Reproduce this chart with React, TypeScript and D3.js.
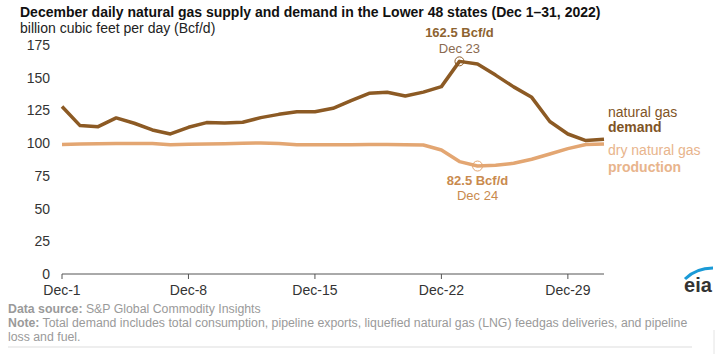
import React from "react";
import * as d3 from "d3";

const days = d3.range(1, 32);
const demand = [128, 113.4, 112.6, 119.3, 115.2, 110.1, 107, 112.1, 115.7, 115.4, 116, 119.5, 122, 124, 124, 126.6, 132.5, 138.1, 138.9, 136, 139, 143.2, 162.5, 160.5, 152, 143, 135, 116.5, 107, 102, 103];
const production = [99, 99.3, 99.6, 99.8, 99.8, 99.8, 98.8, 99.2, 99.4, 99.6, 99.9, 100.2, 99.7, 98.7, 98.7, 98.8, 98.8, 98.9, 98.9, 98.8, 98.6, 94.8, 85.9, 82.5, 83.1, 84.6, 87.7, 91.7, 95.8, 98.9, 99.4];
const yTicks = [0, 25, 50, 75, 100, 125, 150, 175];
const xTickDays = [1, 8, 15, 22, 29];

const W = 719, H = 354;
const FONT = "'Liberation Sans', Arial, sans-serif";
const DEMAND_C = "#8c5a24";
const PROD_C = "#e3a672";

export default function App() {
  const x = d3.scaleLinear().domain([1, 31]).range([62, 604]);
  const y = d3.scaleLinear().domain([0, 175]).range([274, 45]);
  const line = d3.line<number>().x((_, i) => x(days[i])).y((d) => y(d));
  const peakIdx = demand.indexOf(d3.max(demand)!);
  const lowIdx = production.indexOf(d3.min(production)!);

  return (
    <svg width={W} height={H} style={{ position: "absolute", left: 0, top: 0, fontFamily: FONT }}>
      <rect width={W} height={H} fill="#fff" />
      <text x={20} y={17} fontSize={14} fontWeight="bold" fill="#111">
        December daily natural gas supply and demand in the Lower 48 states (Dec 1–31, 2022)
      </text>
      <text x={20} y={33} fontSize={14} fill="#222">billion cubic feet per day (Bcf/d)</text>

      {yTicks.map((t) => (
        <text key={t} x={50} y={y(t) + 5} fontSize={14} fill="#333" textAnchor="end">{t}</text>
      ))}

      <line x1={x(1)} x2={x(31)} y1={y(0)} y2={y(0)} stroke="#555" strokeWidth={1} />
      {xTickDays.map((d) => (
        <g key={d}>
          <line x1={x(d)} x2={x(d)} y1={y(0)} y2={y(0) + 5} stroke="#555" />
          <text x={x(d)} y={y(0) + 21} fontSize={14} fill="#333" textAnchor="middle">{`Dec-${d}`}</text>
        </g>
      ))}

      <path d={line(production)!} fill="none" stroke={PROD_C} strokeWidth={3.5} strokeLinejoin="round" />
      <path d={line(demand)!} fill="none" stroke={DEMAND_C} strokeWidth={3.5} strokeLinejoin="round" />

      <circle cx={x(days[peakIdx])} cy={y(demand[peakIdx])} r={4.5} fill="none" stroke={DEMAND_C} strokeWidth={1} />
      <text x={x(days[peakIdx])} y={37} fontSize={13} fontWeight="bold" fill="#8d6330" textAnchor="middle">162.5 Bcf/d</text>
      <text x={x(days[peakIdx])} y={53} fontSize={13} fill="#8a6a50" textAnchor="middle">Dec 23</text>

      <circle cx={x(days[lowIdx])} cy={y(production[lowIdx])} r={5} fill="none" stroke={PROD_C} strokeWidth={1} />
      <text x={x(days[lowIdx])} y={185} fontSize={13} fontWeight="bold" fill="#c98a4e" textAnchor="middle">82.5 Bcf/d</text>
      <text x={x(days[lowIdx])} y={200} fontSize={13} fill="#c98a4e" textAnchor="middle">Dec 24</text>

      <text x={608} y={117} fontSize={14} fill="#7f5426">natural gas</text>
      <text x={608} y={132} fontSize={14} fontWeight="bold" fill="#7f5426">demand</text>
      <text x={608} y={155} fontSize={14} fill="#e8b48c">dry natural gas</text>
      <text x={608} y={172} fontSize={14} fontWeight="bold" fill="#e8b48c">production</text>

      <text x={8} y={313} fontSize={12.3} fill="#9a9a9a">
        <tspan fontWeight="bold">Data source:</tspan> S&amp;P Global Commodity Insights
      </text>
      <text x={8} y={327} fontSize={12.3} fill="#9a9a9a">
        <tspan fontWeight="bold">Note:</tspan> Total demand includes total consumption, pipeline exports, liquefied natural gas (LNG) feedgas deliveries, and pipeline
      </text>
      <text x={8} y={341} fontSize={12.3} fill="#9a9a9a">loss and fuel.</text>
      <line x1={8} x2={692} y1={347} y2={347} stroke="#ddd" />
      <line x1={714} x2={714} y1={330} y2={354} stroke="#e4e4e4" />

      <path d="M685,279 Q696,268 713,268" fill="none" stroke="#1a9ad6" strokeWidth={3} />
      <text x={698} y={292} fontSize={20} fill="#333" textAnchor="middle" fontWeight="bold">eia</text>
    </svg>
  );
}
